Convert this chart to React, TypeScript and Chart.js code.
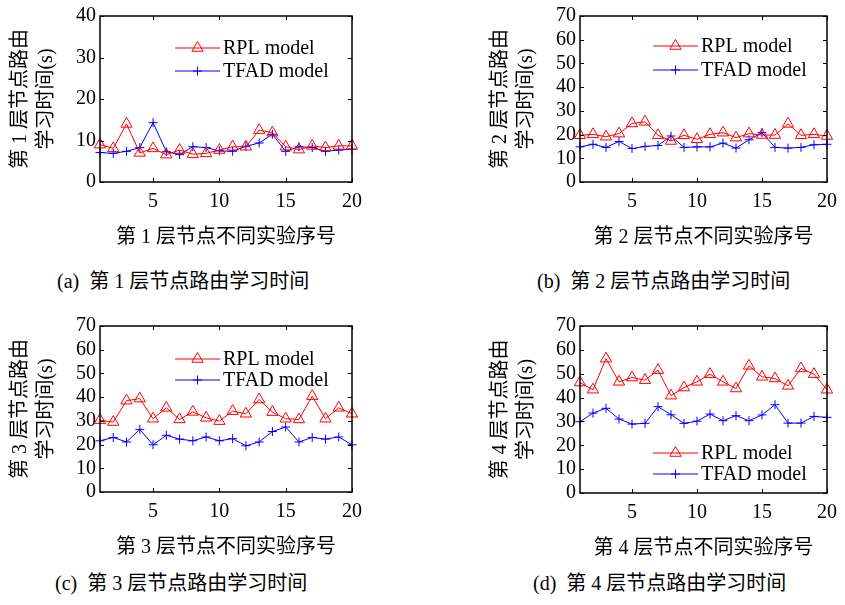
import React, { useEffect, useRef } from 'react';
import { Chart, registerables } from 'chart.js';

Chart.register(...registerables);

const LATIN = '"Liberation Serif", "Times New Roman", serif';
const FONT = '"Liberation Serif", "Noto Sans CJK SC", serif';
Chart.defaults.font.family = FONT;
Chart.defaults.color = '#000';

const experiments = [1, 2, 3, 4, 5, 6, 7, 8, 9, 10, 11, 12, 13, 14, 15, 16, 17, 18, 19, 20];
const xTickValues = [5, 10, 15, 20];
const yTicksLayer1 = [0, 10, 20, 30, 40];
const yTicksOther = [0, 10, 20, 30, 40, 50, 60, 70];

const rplLayer1 = [9.0, 8.1, 14.0, 7.0, 8.1, 6.6, 7.7, 6.7, 6.9, 7.7, 8.5, 8.5, 12.5, 11.9, 8.5, 7.8, 8.7, 8.3, 8.7, 8.7];
const tfadLayer1 = [7.1, 6.9, 7.4, 8.3, 14.3, 7.3, 6.6, 8.5, 8.3, 7.5, 7.4, 8.6, 9.4, 11.5, 7.4, 8.5, 8.3, 7.4, 7.7, 7.9];

const rplLayer2 = [19.7, 20.1, 19.1, 20.4, 24.7, 25.4, 19.7, 17.3, 19.7, 18.0, 20.1, 20.8, 18.7, 20.4, 19.8, 19.8, 24.5, 19.7, 20.1, 19.4];
const tfadLayer2 = [14.8, 15.9, 14.6, 17.1, 14.1, 15.0, 15.4, 19.4, 14.6, 14.8, 14.8, 16.4, 14.3, 17.8, 20.8, 14.6, 14.3, 14.6, 15.7, 15.9];

const rplLayer3 = [30.3, 29.5, 38.5, 39.4, 30.9, 35.5, 30.6, 33.8, 31.3, 29.9, 34.1, 33.0, 39.0, 33.7, 30.9, 30.6, 40.4, 30.9, 35.5, 33.0];
const tfadLayer3 = [21.6, 23.0, 21.1, 26.4, 19.9, 23.9, 22.3, 21.6, 23.2, 21.6, 22.5, 19.5, 21.1, 25.5, 27.4, 21.1, 23.0, 22.3, 23.2, 19.9];

const rplLayer4 = [46.3, 43.3, 56.3, 46.6, 48.4, 47.3, 51.5, 40.8, 44.2, 46.6, 49.8, 46.6, 43.8, 53.3, 48.7, 48.0, 44.9, 52.2, 49.8, 43.3];
const tfadLayer4 = [29.9, 33.5, 35.5, 31.0, 28.9, 29.2, 36.2, 32.8, 29.2, 30.1, 33.1, 30.3, 32.4, 30.3, 32.7, 37.0, 29.3, 29.3, 32.1, 31.7];

const seriesNames = ['RPL model', 'TFAD model'];

const X_AXIS_H = 68;
const Y_AXIS_W = 100;

const framePlugin = {
  id: 'frameTicks',
  afterDraw(chart: any) {
    const { ctx, chartArea } = chart;
    const { left, top, right, bottom } = chartArea;
    const xs = chart.scales.x;
    const ys = chart.scales.y;
    ctx.save();
    ctx.strokeStyle = '#000';
    ctx.lineWidth = 1;
    ctx.beginPath();
    xs.ticks.forEach((t: any) => {
      const px = Math.round(xs.getPixelForValue(t.value)) + 0.5;
      ctx.moveTo(px, bottom);
      ctx.lineTo(px, bottom - 4);
      ctx.moveTo(px, top);
      ctx.lineTo(px, top + 4);
    });
    ys.ticks.forEach((t: any) => {
      const py = Math.round(ys.getPixelForValue(t.value)) + 0.5;
      ctx.moveTo(left, py);
      ctx.lineTo(left + 4, py);
      ctx.moveTo(right, py);
      ctx.lineTo(right - 4, py);
    });
    ctx.stroke();
    ctx.lineWidth = 1.5;
    ctx.strokeRect(left, top, right - left, bottom - top);
    ctx.restore();
  },
};

function drawTriangle(ctx: CanvasRenderingContext2D, x: number, y: number, r: number) {
  const s = Math.sin((2 * Math.PI) / 3) * r;
  ctx.beginPath();
  ctx.moveTo(x, y - r);
  ctx.lineTo(x + s, y + r / 2);
  ctx.lineTo(x - s, y + r / 2);
  ctx.closePath();
  ctx.stroke();
}

function drawPlus(ctx: CanvasRenderingContext2D, x: number, y: number, r: number) {
  ctx.beginPath();
  ctx.moveTo(x - r, y);
  ctx.lineTo(x + r, y);
  ctx.moveTo(x, y - r);
  ctx.lineTo(x, y + r);
  ctx.stroke();
}

function makeLegendPlugin(cfg: { x1: number; x2: number; ys: number[] }) {
  return {
    id: 'innerLegend',
    afterDraw(chart: any) {
      const { ctx, chartArea } = chart;
      ctx.save();
      chart.data.datasets.forEach((ds: any, i: number) => {
        const y = chartArea.top + cfg.ys[i];
        const x1 = chartArea.left + cfg.x1;
        const x2 = chartArea.left + cfg.x2;
        ctx.strokeStyle = ds.borderColor;
        ctx.lineWidth = 1;
        ctx.beginPath();
        ctx.moveTo(x1, y);
        ctx.lineTo(x2, y);
        ctx.stroke();
        const cx = (x1 + x2) / 2;
        if (ds.pointStyle === 'triangle') drawTriangle(ctx, cx, y, ds.pointRadius);
        else drawPlus(ctx, cx, y, ds.pointRadius);
        ctx.fillStyle = '#000';
        ctx.font = `20px ${LATIN}`;
        ctx.textAlign = 'left';
        ctx.textBaseline = 'middle';
        ctx.fillText(ds.label, x2 + 3, y + 1);
      });
      ctx.restore();
    },
  };
}

type PanelProps = {
  left: number;
  top: number;
  width: number;
  height: number;
  padTop: number;
  padRight: number;
  layer: number;
  rpl: number[];
  tfad: number[];
  yMax: number;
  yTicks: number[];
  legend: { x1: number; x2: number; ys: number[] };
};

function Panel(p: PanelProps) {
  const ref = useRef<HTMLCanvasElement>(null);
  useEffect(() => {
    const chart = new Chart(ref.current as HTMLCanvasElement, {
      type: 'line',
      data: {
        datasets: [
          {
            label: seriesNames[0],
            data: experiments.map((x, i) => ({ x, y: p.rpl[i] })),
            borderColor: '#ff0000',
            backgroundColor: 'rgba(0,0,0,0)',
            borderWidth: 1,
            pointStyle: 'triangle',
            pointRadius: 6.5,
            pointBorderColor: '#ff0000',
            pointBackgroundColor: 'rgba(0,0,0,0)',
            pointBorderWidth: 1,
            tension: 0,
            clip: false as any,
          },
          {
            label: seriesNames[1],
            data: experiments.map((x, i) => ({ x, y: p.tfad[i] })),
            borderColor: '#0000ff',
            backgroundColor: 'rgba(0,0,0,0)',
            borderWidth: 1,
            pointStyle: 'cross',
            pointRadius: 4.5,
            pointBorderColor: '#0000ff',
            pointBackgroundColor: 'rgba(0,0,0,0)',
            pointBorderWidth: 1,
            tension: 0,
            clip: false as any,
          },
        ],
      },
      options: {
        animation: false,
        responsive: false,
        maintainAspectRatio: false,
        events: [],
        layout: { padding: { top: p.padTop, right: p.padRight, left: 0, bottom: 0 } },
        plugins: { legend: { display: false }, tooltip: { enabled: false } },
        scales: {
          x: {
            type: 'linear',
            min: 1,
            max: 20,
            afterBuildTicks: (s: any) => {
              s.ticks = xTickValues.map((v) => ({ value: v }));
            },
            afterFit: (s: any) => {
              s.height = X_AXIS_H;
            },
            grid: { display: false, drawTicks: false },
            border: { display: false },
            ticks: { padding: 8, color: '#000', font: { size: 20, family: LATIN }, autoSkip: false, maxRotation: 0 },
            title: {
              display: true,
              text: `第 ${p.layer} 层节点不同实验序号`,
              color: '#000',
              font: { size: 20, lineHeight: '24px' },
              padding: 0,
            },
          },
          y: {
            type: 'linear',
            min: 0,
            max: p.yMax,
            afterBuildTicks: (s: any) => {
              s.ticks = p.yTicks.map((v) => ({ value: v }));
            },
            afterFit: (s: any) => {
              s.width = Y_AXIS_W;
            },
            grid: { display: false, drawTicks: false },
            border: { display: false },
            ticks: { padding: 4, color: '#000', font: { size: 20, family: LATIN }, autoSkip: false },
            title: {
              display: true,
              text: [`第 ${p.layer} 层节点路由`, '学习时间(s)'],
              color: '#000',
              font: { size: 20, lineHeight: '26px' },
              padding: { top: 8, bottom: 0 },
            },
          },
        },
      } as any,
      plugins: [framePlugin, makeLegendPlugin(p.legend)],
    });
    return () => chart.destroy();
  }, []);
  return (
    <canvas
      ref={ref}
      width={p.width}
      height={p.height}
      style={{ position: 'absolute', left: p.left, top: p.top, width: p.width, height: p.height }}
    />
  );
}

const captionStyle: React.CSSProperties = {
  position: 'absolute',
  font: `20px ${FONT}`,
  lineHeight: '24px',
  whiteSpace: 'pre',
  color: '#000',
};

export default function App() {
  return (
    <div style={{ position: 'absolute', left: 0, top: 0, width: 845, height: 605, background: '#fff', overflow: 'hidden' }}>
      <Panel left={0} top={0} width={370} height={250} padTop={13} padRight={12} layer={1}
        rpl={rplLayer1} tfad={tfadLayer1} yMax={40} yTicks={yTicksLayer1}
        legend={{ x1: 75, x2: 120, ys: [32, 55] }} />
      <Panel left={480} top={0} width={365} height={250} padTop={13} padRight={7} layer={2}
        rpl={rplLayer2} tfad={tfadLayer2} yMax={70} yTicks={yTicksOther}
        legend={{ x1: 73, x2: 118, ys: [30, 54] }} />
      <Panel left={0} top={310} width={370} height={250} padTop={14} padRight={11} layer={3}
        rpl={rplLayer3} tfad={tfadLayer3} yMax={70} yTicks={yTicksOther}
        legend={{ x1: 75, x2: 120, ys: [33, 54] }} />
      <Panel left={480} top={310} width={365} height={251} padTop={15} padRight={7} layer={4}
        rpl={rplLayer4} tfad={tfadLayer4} yMax={70} yTicks={yTicksOther}
        legend={{ x1: 73, x2: 118, ys: [127, 148] }} />
      <div style={{ ...captionStyle, left: 57, top: 269 }}>(a)  第 1 层节点路由学习时间</div>
      <div style={{ ...captionStyle, left: 537, top: 269 }}>(b)  第 2 层节点路由学习时间</div>
      <div style={{ ...captionStyle, left: 55, top: 571 }}>(c)  第 3 层节点路由学习时间</div>
      <div style={{ ...captionStyle, left: 533, top: 571 }}>(d)  第 4 层节点路由学习时间</div>
    </div>
  );
}
